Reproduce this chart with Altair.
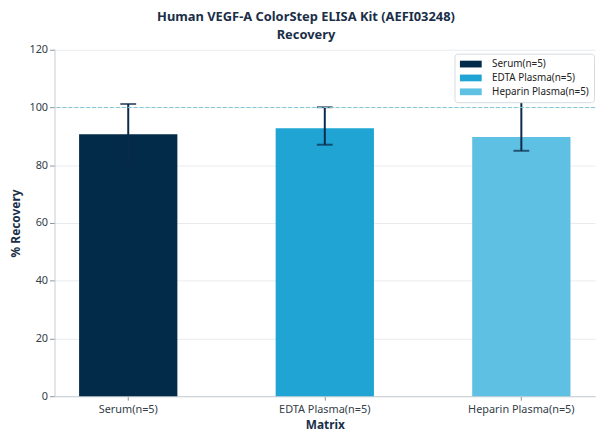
import altair as alt
import pandas as pd

categories = ["Serum(n=5)", "EDTA Plasma(n=5)", "Heparin Plasma(n=5)"]
recovery = [90.7, 92.8, 89.8]
err_low = [80.2, 87.1, 85.0]
err_high = [101.2, 100.1, 104.0]
colors = ["#022b49", "#1fa4d3", "#5ec0e2"]
y_ticks = [0, 20, 40, 60, 80, 100, 120]
reference = [100]

df = pd.DataFrame({"Matrix": categories, "Recovery": recovery,
                   "low": err_low, "high": err_high})
ref_df = pd.DataFrame({"y": reference})

FONT = "Noto Sans"
DARK = "#1a2e48"

xenc = alt.X("Matrix:N", sort=categories,
             scale=alt.Scale(paddingInner=0.5, paddingOuter=0.125),
             axis=alt.Axis(title="Matrix", labelAngle=0, labelFontSize=11,
                           labelColor="#333d47", titleFontSize=12, titleFontWeight="bold",
                           titleColor=DARK, tickSize=4, tickColor="#8a949e",
                           domainColor="#c8cdd2", labelPadding=3, titlePadding=6))

bars = alt.Chart(df).mark_bar().encode(
    x=xenc,
    y=alt.Y("Recovery:Q", scale=alt.Scale(domain=[0, 120], nice=False),
            axis=alt.Axis(title="% Recovery", values=y_ticks, labelFontSize=11,
                          labelColor="#333d47", titleFontSize=12, titleFontWeight="bold",
                          titleColor=DARK, tickSize=5, tickColor="#8a949e",
                          domainColor="#c8cdd2", gridColor="#e8ebee", titlePadding=6)),
    color=alt.Color("Matrix:N", sort=categories,
                    scale=alt.Scale(domain=categories, range=colors),
                    legend=alt.Legend(title=None, orient="none", legendX=404, legendY=4,
                                      symbolType="M-2,-0.62H2V0.62H-2Z", symbolSize=121,
                                      symbolOffset=6, labelOffset=16,
                                      labelFontSize=10, labelColor="#222",
                                      fillColor="white", strokeColor="#d6dadf",
                                      padding=5, rowPadding=3, cornerRadius=3,
                                      symbolStrokeWidth=0)),
)

rules = alt.Chart(df).mark_rule(color="#0b2a4a", strokeWidth=2).encode(
    x=alt.X("Matrix:N", sort=categories), y="low:Q", y2="high:Q")

caps_hi = alt.Chart(df).mark_tick(color="#0b2a4a", thickness=2, size=16).encode(
    x=alt.X("Matrix:N", sort=categories), y="high:Q")
caps_lo = alt.Chart(df).mark_tick(color="#0b2a4a", thickness=2, size=16).encode(
    x=alt.X("Matrix:N", sort=categories), y="low:Q")

ref = alt.Chart(ref_df).mark_rule(color="#7fc6d4", strokeDash=[4, 2], strokeWidth=1).encode(
    y="y:Q")

chart = alt.layer(bars, rules, caps_hi, caps_lo, ref).properties(
    width=546, height=350,
    padding={"left": 2, "top": 1, "right": 4, "bottom": 0},
    title=alt.Title("Human VEGF-A ColorStep ELISA Kit (AEFI03248)",
                    subtitle="Recovery",
                    fontSize=13, fontWeight="bold", color=DARK, anchor="middle",
                    subtitleFontSize=13, subtitleFontWeight="bold", subtitleColor=DARK,
                    subtitlePadding=5, subtitleFont=FONT,
                    frame="group", dx=-19, offset=2),
).configure(font=FONT).configure_view(stroke=None)

chart.save("out.html", embed_options={"renderer": "svg", "actions": False})
